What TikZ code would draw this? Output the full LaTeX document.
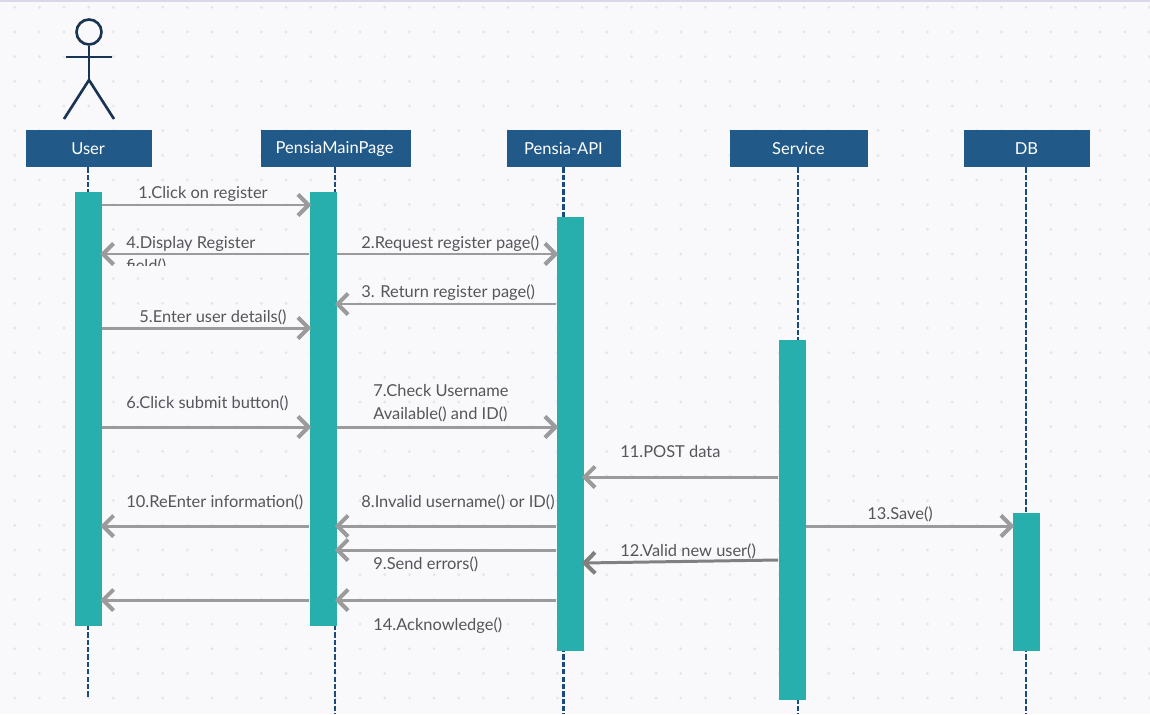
\documentclass[tikz,border=0pt]{standalone}
\usepackage{fontspec}
\setmainfont{Lato}
\usetikzlibrary{positioning,calc}
\usetikzlibrary{arrows.meta}
\definecolor{PageBg}{RGB}{249,249,252}
\definecolor{GridDot}{RGB}{230,230,234}
\definecolor{TopRule}{RGB}{216,216,232}
\definecolor{HeadBlue}{RGB}{33,90,137}
\definecolor{BarTeal}{RGB}{38,175,173}
\definecolor{LifeBlue}{RGB}{27,75,125}
\definecolor{FigNavy}{RGB}{24,52,82}
\definecolor{MsgGray}{RGB}{155,155,155}
\definecolor{MsgDark}{RGB}{128,128,128}
\definecolor{LabelGray}{RGB}{85,85,90}
\newcommand{\px}{0.02cm}
\tikzset{
  head/.style={draw=none,fill=HeadBlue,text=white,inner sep=0pt,minimum height=37*\px,font=\fontsize{9.4}{11}\selectfont},
  bar/.style={draw=none,fill=BarTeal,inner sep=0pt,minimum width=27*\px},
  life/.style={draw=LifeBlue,line width=1.3pt,dash pattern=on 3pt off 1.2pt},
  fig/.style={draw=FigNavy,line width=1.5pt},
  msg/.style={draw=MsgGray,line width=1.7pt,shorten >=-1.2pt,-{Straight Barb[length=6pt,width=12pt,line width=2.3pt]}},
  lbl/.style={anchor=base west,inner sep=0pt,text=LabelGray,font=\fontsize{9.35}{11}\selectfont},
}
\begin{document}
\begin{tikzpicture}[x=0.02cm,y=-0.02cm]
\fill[PageBg] (0,0) rectangle (1150,714);
\useasboundingbox (0,0) rectangle (1150,714);
\draw[TopRule,line width=0.6pt] (0,1)--(1150,1);
% dotted page grid
\foreach \i in {0,...,46}
  \foreach \j in {0,...,28}
    \fill[GridDot] ({14.7+24.67*\i},{7.3+24.67*\j}) circle (1.6);
% stick figure
\node[circle,draw=FigNavy,fill=PageBg,line width=1.5pt,inner sep=0pt,minimum size=25*\px] (face) at (89,32) {};
\coordinate (hip) at (89,80);
\coordinate (armL) at (66,57);
\coordinate (armR) at (112,57);
\coordinate (footL) at (64,119);
\coordinate (footR) at (114,119);
\draw[fig] (face)--(hip);
\draw[fig] (armL)--(armR);
\draw[fig] (footL)--(hip)--(footR);
% heads
\node[head,minimum width=126*\px] (user) at (89,148.5) {\hspace{-1pt}User};
\node[head,minimum width=150*\px] (page) at (335.5,148.5) {\hspace{-1pt}PensiaMainPage};
\node[head,minimum width=114*\px] (api) at (563.5,148.5) {Pensia-API};
\node[head,minimum width=138*\px] (service) at (798.5,148.5) {Service};
\node[head,minimum width=126*\px] (db) at (1026.5,148.5) {DB};
% lifelines
\coordinate (userEnd) at (88,697);
\coordinate (pageEnd) at (335,714);
\coordinate (apiEnd) at (563.5,714);
\coordinate (serviceEnd) at (798,714);
\coordinate (dbEnd) at (1026,714);
\draw[life] (user.south -| userEnd)--(userEnd);
\draw[life] (page.south -| pageEnd)--(pageEnd);
\draw[life] (api.south -| apiEnd)--(apiEnd);
\draw[life] (service.south -| serviceEnd)--(serviceEnd);
\draw[life] (db.south -| dbEnd)--(dbEnd);
% activation bars
\node[bar,minimum height=434*\px] (userBar) at (88.5,408.5) {};
\node[bar,minimum height=434*\px] (pageBar) at (323,408.5) {};
\node[bar,minimum height=434*\px] (apiBar) at (570,433.5) {};
\node[bar,minimum height=360*\px] (serviceBar) at (792,519.5) {};
\node[bar,minimum height=138*\px] (dbBar) at (1026,581.5) {};
% message rows
\coordinate (r1) at (0,205);
\coordinate (r2) at (0,254);
\coordinate (r3) at (0,304);
\coordinate (r5) at (0,328);
\coordinate (r6) at (0,427);
\coordinate (r11) at (0,477);
\coordinate (r8) at (0,526);
\coordinate (r9) at (0,550);
\coordinate (r14) at (0,600);
\coordinate (r12a) at (0,560);
\coordinate (r12b) at (0,563);
\draw[msg] (userBar.east |- r1)--(pageBar.west |- r1);
\draw[msg] (pageBar.west |- r2)--(userBar.east |- r2);
\draw[msg] (pageBar.east |- r2)--(apiBar.west |- r2);
\draw[msg] (apiBar.west |- r3)--(pageBar.east |- r3);
\draw[msg] (userBar.east |- r5)--(pageBar.west |- r5);
\draw[msg] (userBar.east |- r6)--(pageBar.west |- r6);
\draw[msg] (pageBar.east |- r6)--(apiBar.west |- r6);
\draw[msg] (serviceBar.west |- r11)--(apiBar.east |- r11);
\draw[msg] (pageBar.west |- r8)--(userBar.east |- r8);
\draw[msg] (apiBar.west |- r8)--(pageBar.east |- r8);
\draw[msg] (apiBar.west |- r9)--(pageBar.east |- r9);
\draw[msg,draw=MsgDark] (serviceBar.west |- r12a)--(apiBar.east |- r12b);
\draw[msg] (serviceBar.east |- r8)--(dbBar.west |- r8);
\draw[msg] (apiBar.west |- r14)--(pageBar.east |- r14);
\draw[msg] (pageBar.west |- r14)--(userBar.east |- r14);
% labels
\node[lbl] (l1) at (138,198) {1.Click on register};
\node[lbl] (l4) at (126,248) {4.Display Register};
\begin{scope}
\clip (120,255) rectangle (200,265);
\node[lbl] (l4b) at (126,271) {field()};
\end{scope}
\node[lbl] (l2) at (361,248) {2.Request register page()};
\node[lbl] (l3) at (361,297) {3. Return register page()};
\node[lbl] (l5) at (139,322) {5.Enter user details()};
\node[lbl] (l6) at (126,408) {6.Click submit button()};
\node[lbl] (l7) at (373,396) {7.Check Username};
\node[lbl] (l7b) at (373,419) {Available() and ID()};
\node[lbl] (l11) at (620,457) {11.POST data};
\node[lbl] (l10) at (126,507) {10.ReEnter information()};
\node[lbl] (l8) at (361,507) {8.Invalid username() or ID()};
\node[lbl] (l9) at (373,569) {9.Send errors()};
\node[lbl] (l12) at (620,556) {12.Valid new user()};
\node[lbl] (l13) at (867,519) {13.Save()};
\node[lbl] (l14) at (373,630) {14.Acknowledge()};
\end{tikzpicture}
\end{document}
